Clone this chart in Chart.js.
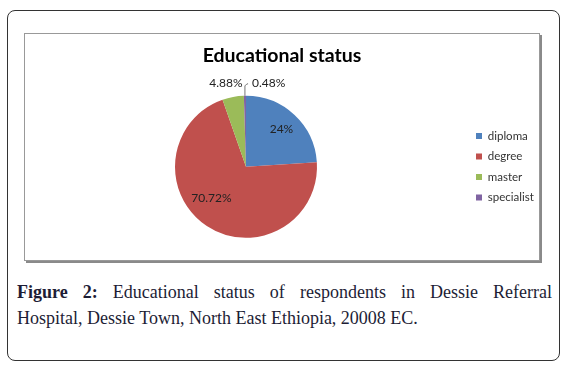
<!DOCTYPE html>
<html>
<head>
<meta charset="utf-8">
<script src="https://cdn.jsdelivr.net/npm/chart.js@4"></script>
<style>
  html, body { margin: 0; padding: 0; background: #fff; }
  body { width: 569px; height: 368px; position: relative; overflow: hidden; }
  #frame {
    position: absolute; left: 7px; top: 10px; width: 553px; height: 351px;
    box-sizing: border-box; border: 1px solid #333; border-radius: 8px;
  }
  #plot {
    position: absolute; left: 24px; top: 33px; width: 516px; height: 228px;
    box-sizing: border-box; border: 1px solid #999; box-shadow: 2px 2px 0 #8a8a8a;
  }
  #plot canvas { position: absolute; left: 0; top: 0; }
  .cap {
    position: absolute; left: 17px; width: 535px;
    font-family: "Liberation Serif", serif; font-size: 18px; color: #1d1d35;
    white-space: nowrap;
  }
  #cap1 { top: 282px; text-align: justify; text-align-last: justify; white-space: normal; }
  #cap2 { top: 308px; }
</style>
</head>
<body>
<div id="frame"></div>
<div id="plot"><canvas id="chart" width="514" height="226"></canvas></div>
<div class="cap" id="cap1"><b>Figure 2:</b> Educational status of respondents in Dessie Referral</div>
<div class="cap" id="cap2">Hospital, Dessie Town, North East Ethiopia, 20008 EC.</div>

<script>
/* datos del grafico */
const TITULO = "Educational status";
const CATEGORIAS = ["diploma", "degree", "master", "specialist"];
const PORCENTAJES = [24, 70.72, 4.88, 0.48];
const ETIQUETAS = ["24%", "70.72%", "4.88%", "0.48%"];
const COLORES = ["#4F81BD", "#C0504D", "#9BBB59", "#8064A2"];

/* donde va cada etiqueta: fraccion del radio, giro en grados, alineacion */
const POS_ETIQUETAS = [
    { f: 0.73, da: 0,  align: "center" },
    { f: 0.66, da: 14, align: "center" },
    { f: 1.21, da: -3, align: "center" },
    { f: 1.185, da: 5, align: "left", guia: true }
];

const etiquetasPie = {
    id: "etiquetasPie",
    afterDatasetsDraw(chart) {
        const ctx = chart.ctx;
        const meta = chart.getDatasetMeta(0);
        ctx.save();
        ctx.font = "12px Lato";
        ctx.fillStyle = "#222";
        ctx.textBaseline = "middle";

        meta.data.forEach((arc, i) => {
            const p = POS_ETIQUETAS[i];
            const mid = (arc.startAngle + arc.endAngle) / 2;
            const a = mid + p.da * Math.PI / 180;
            const x = arc.x + Math.cos(a) * arc.outerRadius * p.f;
            const y = arc.y + Math.sin(a) * arc.outerRadius * p.f;

            if (p.guia) {
                const x0 = arc.x + Math.cos(mid) * arc.outerRadius;
                const y0 = arc.y + Math.sin(mid) * arc.outerRadius;
                ctx.strokeStyle = "#777";
                ctx.lineWidth = 1;
                ctx.beginPath();
                ctx.moveTo(x0, y0);
                ctx.lineTo(x0, y + 3);
                ctx.lineTo(x0 + 2, y + 1);
                ctx.lineTo(x - 4, y + 1);
                ctx.stroke();
            }

            ctx.textAlign = p.align;
            ctx.fillText(ETIQUETAS[i], x, y);
        });
        ctx.restore();
    }
};

new Chart(document.getElementById("chart"), {
    type: "pie",
    data: {
        labels: CATEGORIAS,
        datasets: [{
            data: PORCENTAJES,
            backgroundColor: COLORES,
            borderColor: COLORES,
            borderWidth: 0
        }]
    },
    options: {
        responsive: false,
        animation: false,
        layout: { padding: { top: 0, bottom: 22.2, left: 0, right: 0 } },
        plugins: {
            title: {
                display: true,
                text: TITULO,
                color: "#000",
                font: { family: "Lato", size: 19.5, weight: "bold", lineHeight: 1.2 },
                padding: { top: 10.3, bottom: 28.1 }
            },
            legend: {
                position: "right",
                fullSize: false,
                maxWidth: 72,
                labels: {
                    boxWidth: 6,
                    boxHeight: 6,
                    padding: 9,
                    color: "#333",
                    font: { family: "Lato", size: 11.5 }
                }
            },
            tooltip: { enabled: false }
        }
    },
    plugins: [etiquetasPie]
});
</script>
</body>
</html>
